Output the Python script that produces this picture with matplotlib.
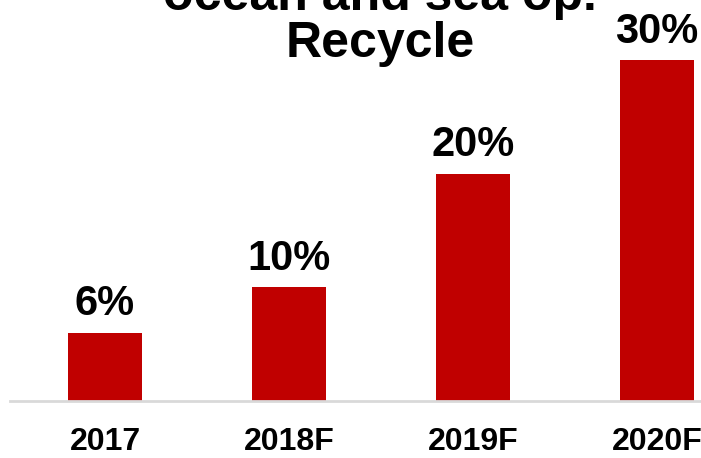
import matplotlib
matplotlib.use('Agg')
import matplotlib.pyplot as plt
from matplotlib import font_manager

years = ['2017', '2018F', '2019F', '2020F']
rates = [6, 10, 20, 30]
labels = ['6%', '10%', '20%', '30%']

plt.rcParams['font.family'] = ['Liberation Sans', 'DejaVu Sans']

fig = plt.figure(figsize=(7.01, 4.58), dpi=100)
ax = fig.add_axes([10 / 701, 57 / 458, 691 / 701, 401 / 458])

bars = ax.bar(range(len(years)), rates, width=0.40, color='#C00000')
ax.bar_label(bars, labels=labels, padding=6, fontsize=30, fontweight='bold')

ax.set_xlim(-95 / 184, 596 / 184)
ax.set_ylim(0, 401 / 11.37)

for s in ['top', 'right', 'left']:
    ax.spines[s].set_visible(False)
ax.spines['bottom'].set_color('#D9D9D9')
ax.spines['bottom'].set_linewidth(2)
ax.set_yticks([])
ax.set_xticks(range(len(years)))

names = [f.name for f in font_manager.fontManager.ttflist]
tick_family = ['Liberation Sans Narrow', 'Liberation Sans'] if 'Liberation Sans Narrow' in names else ['Liberation Sans']
ax.set_xticklabels(years, fontsize=23, fontweight='bold', family=tick_family)
ax.tick_params(axis='x', length=0, pad=19)

# title runs off the top of the picture, as in the source slide
fig.text(380 / 701, 1 - 10 / 458, 'ocean and sea op.', ha='center', va='baseline',
         fontsize=36, fontweight='bold')
fig.text(380 / 701, 1 - 57 / 458, 'Recycle', ha='center', va='baseline',
         fontsize=36, fontweight='bold')

fig.savefig('out.png', dpi=100)
